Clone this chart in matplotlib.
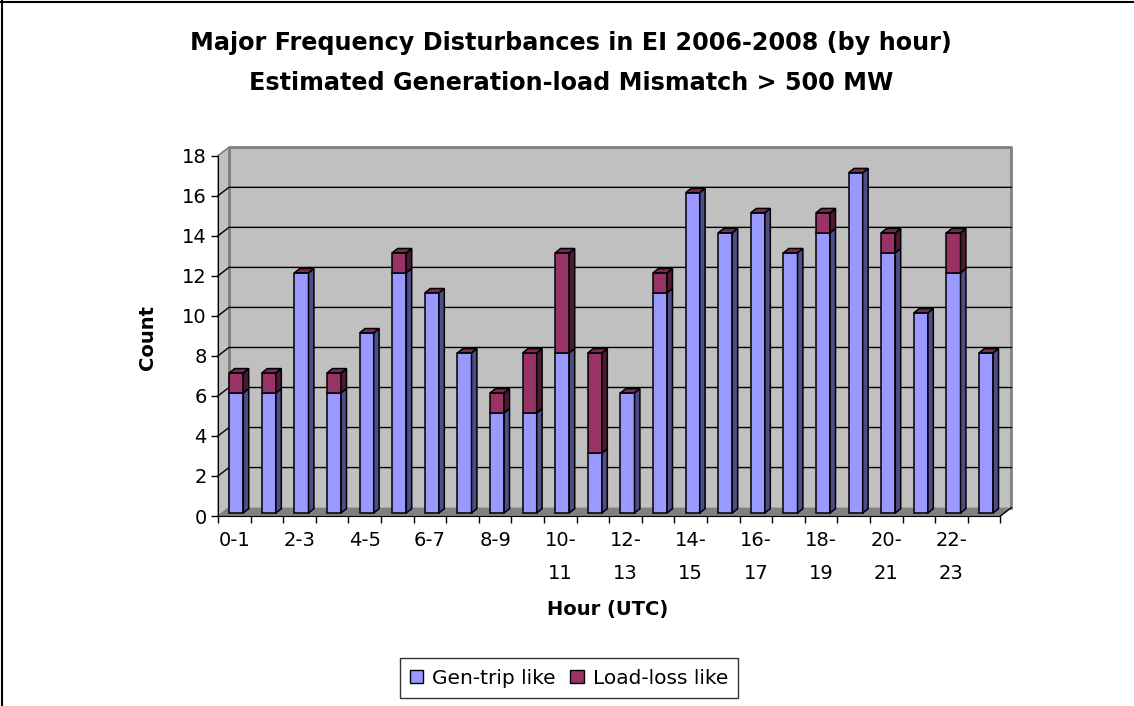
import matplotlib
matplotlib.use("Agg")
import matplotlib.pyplot as plt
import matplotlib.patches as mpatches
from matplotlib.patches import Polygon

plt.rcParams.update({
    "font.family": ["DejaVu Sans"],
    "font.size": 14,
})

# datos
hours = ["0-1", "1-2", "2-3", "3-4", "4-5", "5-6", "6-7", "7-8", "8-9", "9-10",
         "10-\n11", "11-\n12", "12-\n13", "13-\n14", "14-\n15", "15-\n16",
         "16-\n17", "17-\n18", "18-\n19", "19-\n20", "20-\n21", "21-\n22",
         "22-\n23", "23-\n24"]
gen_trip = [6, 6, 12, 6, 9, 12, 11, 8, 5, 5, 8, 3, 6, 11, 16, 14, 15, 13, 14, 17, 13, 10, 12, 8]
load_loss = [1, 1, 0, 1, 0, 1, 0, 0, 1, 3, 5, 5, 0, 1, 0, 0, 0, 0, 1, 0, 1, 0, 2, 0]
y_ticks = list(range(0, 20, 2))

W, H = 1134, 706
fig = plt.figure(figsize=(W / 100, H / 100), dpi=100)
fig.patch.set_facecolor("white")

# ejes en píxeles
x0, x1 = 218, 218 + 24 * 32.6
y0, y1 = 516, 155.7
ax = fig.add_axes([x0 / W, (H - y0) / H, (x1 - x0) / W, (y0 - y1) / H])
n = len(hours)
ymax = 18
ax.set_xlim(0, n)
ax.set_ylim(0, ymax)
sx = (x1 - x0) / n
sy = (y0 - y1) / ymax

def px(dx, dy):
    return dx / sx, dy / sy

# profundidad de las paredes y de las barras
wdx, wdy = px(11, 8.4)
fdx, fdy = px(2, 3)
bdx, bdy = px(5.4, 4.3)

# pared trasera, lateral y suelo
ax.add_patch(Polygon([(wdx, wdy), (n + wdx, wdy), (n + wdx, ymax + wdy), (wdx, ymax + wdy)],
                     closed=True, facecolor="#C0C0C0", edgecolor="none", zorder=0, clip_on=False))
ax.add_patch(Polygon([(0, 0), (wdx, wdy), (wdx, ymax + wdy), (0, ymax)],
                     closed=True, facecolor="#C0C0C0", edgecolor="#808080", lw=1, zorder=0, clip_on=False))
ax.add_patch(Polygon([(0, 0), (n, 0), (n + wdx, wdy), (wdx, wdy)],
                     closed=True, facecolor="#808080", edgecolor="none", zorder=1, clip_on=False))
ax.plot([wdx, wdx, n + wdx, n + wdx], [wdy, ymax + wdy, ymax + wdy, wdy],
        color="#808080", lw=2, zorder=1, clip_on=False)
ax.plot([n, n + wdx], [0, wdy], color="black", lw=1, zorder=1, clip_on=False)

for t in y_ticks[1:-1]:
    ax.plot([0, wdx, n + wdx], [t, t + wdy, t + wdy], color="black", lw=1, zorder=1, clip_on=False)
ax.plot([0, wdx], [ymax, ymax + wdy], color="#808080", lw=1, zorder=1, clip_on=False)

# barras apiladas con efecto 3D
bw = 0.43
cols = {"gen": ("#9999FF", "#4D4D88", "#7A7ACC"),
        "load": ("#993366", "#4D1933", "#7A2952")}
for i in range(n):
    xl = i + 0.5 - bw / 2 + fdx
    xr = xl + bw
    segs = [(0, gen_trip[i], cols["gen"]), (gen_trip[i], gen_trip[i] + load_loss[i], cols["load"])]
    for b, t, (cf, cs, ct) in segs:
        yb, yt = b + fdy, t + fdy
        if t > b:
            ax.add_patch(Polygon([(xl, yb), (xr, yb), (xr, yt), (xl, yt)], closed=True,
                                 facecolor=cf, edgecolor="black", lw=1.1, zorder=3, clip_on=False))
            ax.add_patch(Polygon([(xr, yb), (xr + bdx, yb + bdy), (xr + bdx, yt + bdy), (xr, yt)],
                                 closed=True, facecolor=cs, edgecolor="black", lw=1.1, zorder=3, clip_on=False))
    top = gen_trip[i] + load_loss[i] + fdy
    ax.add_patch(Polygon([(xl, top), (xr, top), (xr + bdx, top + bdy), (xl + bdx, top + bdy)],
                         closed=True, facecolor=cols["load"][2], edgecolor="black", lw=1.1, zorder=3,
                         clip_on=False))

# ejes
for s in ["top", "right"]:
    ax.spines[s].set_visible(False)
ax.spines["left"].set_color("black")
ax.spines["bottom"].set_color("black")
ax.spines["left"].set_zorder(4)
ax.spines["bottom"].set_zorder(4)
ax.set_facecolor("none")
ax.set_yticks(y_ticks)
ax.tick_params(axis="y", length=5.2, width=1, pad=3, labelsize=14)
ax.set_xticks([i + 0.5 for i in range(0, n, 2)])
ax.set_xticklabels(hours[::2])
ax.set_xticks(range(n + 1), minor=True)
ax.tick_params(axis="x", which="major", length=0, pad=11, labelsize=14)
ax.tick_params(axis="x", which="minor", length=5.2, width=1)
for lbl in ax.get_xticklabels():
    lbl.set_linespacing(1.9)

fig.text(571 / W, 1 - 43 / H, "Major Frequency Disturbances in EI 2006-2008 (by hour)",
         ha="center", va="center", fontsize=17.2, fontweight="bold")
fig.text(571 / W, 1 - 83 / H, "Estimated Generation-load Mismatch > 500 MW",
         ha="center", va="center", fontsize=17.2, fontweight="bold")
fig.text(147 / W, 1 - 337 / H, "Count", rotation=90, ha="center", va="center",
         fontsize=14, fontweight="bold")
fig.text(608 / W, 1 - 610 / H, "Hour (UTC)", ha="center", va="center",
         fontsize=14, fontweight="bold")

handles = [mpatches.Patch(facecolor="#9999FF", edgecolor="black", label="Gen-trip like"),
           mpatches.Patch(facecolor="#993366", edgecolor="black", label="Load-loss like")]
leg = fig.legend(handles=handles, loc="center", bbox_to_anchor=(569 / W, 1 - 678 / H), ncol=2,
                 frameon=True, fancybox=False, handlelength=0.68, handleheight=0.68,
                 handletextpad=0.45, columnspacing=0.7, borderpad=0.5, fontsize=14.5)
leg.get_frame().set_edgecolor("black")
leg.get_frame().set_linewidth(1)

# marco de la figura (solo arriba e izquierda)
fig.add_artist(plt.Line2D([0, 1], [1 - 1.5 / H, 1 - 1.5 / H], color="black", lw=1.5,
                          transform=fig.transFigure))
fig.add_artist(plt.Line2D([2 / W, 2 / W], [0, 1], color="black", lw=1.5,
                          transform=fig.transFigure))

fig.savefig("out.png", dpi=100)
